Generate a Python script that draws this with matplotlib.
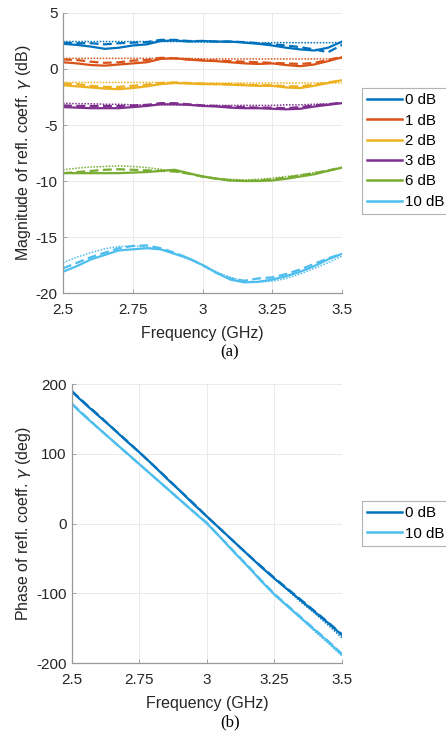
import matplotlib
matplotlib.use("Agg")
import matplotlib.pyplot as plt

plt.rcParams['font.family'] = ['Liberation Sans', 'DejaVu Sans']
plt.rcParams['mathtext.fontset'] = 'dejavusans'
plt.rcParams['axes.unicode_minus'] = False

freq = [2.5, 2.55, 2.6, 2.65, 2.7, 2.75, 2.8, 2.85, 2.9, 2.95, 3.0,
        3.05, 3.1, 3.15, 3.2, 3.25, 3.3, 3.35, 3.4, 3.45, 3.5]

labels_mag = ['0 dB', '1 dB', '2 dB', '3 dB', '6 dB', '10 dB']
colors = ['#0072BD', '#D95319', '#EDB120', '#7E2F8E', '#77AC30', '#4DBEEE']

mag_solid = [
    [2.25, 2.15, 2.0, 1.8, 1.9, 2.1, 2.2, 2.5, 2.55, 2.45, 2.5, 2.45, 2.45, 2.35, 2.25, 2.1, 1.9, 1.75, 1.65, 1.9, 2.45],
    [0.6, 0.5, 0.35, 0.3, 0.4, 0.5, 0.6, 0.9, 0.95, 0.85, 0.75, 0.7, 0.6, 0.5, 0.45, 0.5, 0.35, 0.25, 0.4, 0.7, 1.05],
    [-1.45, -1.55, -1.65, -1.75, -1.8, -1.7, -1.55, -1.35, -1.25, -1.3, -1.35, -1.35, -1.4, -1.45, -1.5, -1.5, -1.65, -1.7, -1.5, -1.25, -1.0],
    [-3.4, -3.45, -3.5, -3.5, -3.5, -3.4, -3.3, -3.15, -3.15, -3.2, -3.3, -3.35, -3.45, -3.5, -3.5, -3.55, -3.6, -3.55, -3.35, -3.2, -3.05],
    [-9.3, -9.3, -9.3, -9.3, -9.3, -9.25, -9.2, -9.1, -9.0, -9.3, -9.6, -9.8, -9.95, -10.0, -10.0, -9.95, -9.8, -9.6, -9.4, -9.1, -8.8],
    [-18.1, -17.6, -17.0, -16.6, -16.2, -16.1, -16.0, -16.1, -16.5, -16.9, -17.5, -18.2, -18.8, -19.05, -19.0, -18.8, -18.5, -18.1, -17.6, -17.0, -16.5],
]
mag_dashed = [
    [2.35, 2.3, 2.3, 2.2, 2.3, 2.35, 2.4, 2.6, 2.6, 2.5, 2.5, 2.45, 2.45, 2.4, 2.3, 2.2, 2.1, 1.95, 1.75, 1.5, 2.15],
    [0.85, 0.8, 0.65, 0.55, 0.6, 0.75, 0.8, 1.0, 0.95, 0.85, 0.8, 0.75, 0.7, 0.65, 0.6, 0.55, 0.5, 0.45, 0.55, 0.8, 1.1],
    [-1.3, -1.35, -1.5, -1.6, -1.6, -1.5, -1.4, -1.25, -1.2, -1.25, -1.3, -1.35, -1.35, -1.4, -1.45, -1.45, -1.55, -1.55, -1.4, -1.2, -1.0],
    [-3.25, -3.3, -3.3, -3.3, -3.3, -3.25, -3.2, -3.05, -3.05, -3.15, -3.25, -3.3, -3.35, -3.4, -3.45, -3.45, -3.5, -3.4, -3.25, -3.15, -3.0],
    [-9.3, -9.2, -9.1, -9.0, -8.95, -9.0, -9.05, -9.1, -9.15, -9.35, -9.6, -9.8, -9.95, -10.0, -9.95, -9.85, -9.7, -9.5, -9.3, -9.05, -8.8],
    [-17.8, -17.3, -16.8, -16.4, -16.0, -15.8, -15.75, -16.0, -16.4, -16.9, -17.5, -18.2, -18.7, -18.9, -18.7, -18.6, -18.3, -17.9, -17.4, -16.9, -16.5],
]
mag_dotted = [
    [2.45, 2.45, 2.45, 2.45, 2.45, 2.45, 2.45, 2.45, 2.45, 2.45, 2.4, 2.4, 2.4, 2.4, 2.35, 2.35, 2.35, 2.35, 2.35, 2.35, 2.35],
    [0.95, 0.95, 0.95, 0.95, 0.95, 0.95, 0.95, 0.95, 0.95, 0.95, 0.9, 0.9, 0.9, 0.9, 0.9, 0.9, 0.9, 0.9, 0.9, 0.9, 0.95],
    [-1.2, -1.2, -1.2, -1.2, -1.2, -1.2, -1.2, -1.2, -1.2, -1.25, -1.25, -1.25, -1.25, -1.25, -1.25, -1.25, -1.25, -1.25, -1.25, -1.25, -1.25],
    [-3.05, -3.1, -3.1, -3.15, -3.15, -3.2, -3.2, -3.2, -3.2, -3.2, -3.25, -3.25, -3.25, -3.25, -3.25, -3.25, -3.2, -3.2, -3.15, -3.1, -3.05],
    [-9.0, -8.85, -8.75, -8.7, -8.65, -8.7, -8.8, -8.95, -9.15, -9.35, -9.55, -9.75, -9.85, -9.9, -9.85, -9.75, -9.6, -9.45, -9.25, -9.05, -8.85],
    [-17.3, -16.8, -16.4, -16.05, -15.85, -15.8, -15.9, -16.1, -16.5, -17.0, -17.5, -18.1, -18.6, -18.95, -19.0, -18.95, -18.7, -18.3, -17.8, -17.3, -16.7],
]

labels_phase = ['0 dB', '10 dB']
colors_phase = ['#0072BD', '#4DBEEE']
phase_solid = [
    [189, 171, 154, 137, 119, 102, 84, 65, 47, 28, 10, -8, -26, -44, -62, -79, -95, -111, -127, -143, -160],
    [171, 153, 136, 119, 102, 85, 68, 51, 34, 17, 0, -20, -41, -61, -82, -102, -119, -136, -153, -170, -188],
]
phase_dashed = [
    [190, 172, 155, 137, 120, 102, 84, 66, 47, 29, 10, -8, -26, -44, -61, -78, -94, -110, -126, -142, -159],
    [172, 154, 136, 119, 102, 85, 68, 51, 34, 17, 1, -20, -40, -60, -81, -101, -118, -135, -152, -169, -187],
]
phase_dotted = [
    [189, 171, 154, 137, 119, 102, 84, 65, 47, 28, 10, -8, -26, -44, -62, -79, -96, -113, -129, -146, -164],
    [171, 153, 136, 119, 102, 85, 68, 51, 34, 17, 0, -20, -41, -61, -82, -102, -120, -137, -155, -172, -190],
]

xticks = [2.5, 2.75, 3.0, 3.25, 3.5]
xticklabels = ['2.5', '2.75', '3', '3.25', '3.5']

fig = plt.figure(figsize=(4.46, 7.34), dpi=100)
ax1 = fig.add_axes([0.1413, 0.6008, 0.6256, 0.3815])
ax2 = fig.add_axes([0.1614, 0.0967, 0.6054, 0.3800])

def style(ax):
    ax.set_xlim(2.5, 3.5)
    ax.set_xticks(xticks)
    ax.set_xticklabels(xticklabels)
    ax.grid(True, color='#e6e6e6', lw=0.6)
    ax.set_axisbelow(True)
    for s in ['top', 'right']:
        ax.spines[s].set_visible(False)
    for s in ['left', 'bottom']:
        ax.spines[s].set_color('#999999')
        ax.spines[s].set_linewidth(0.9)
    ax.tick_params(direction='in', length=3, width=0.6, colors='#999999',
                   labelcolor='#262626', labelsize=11)
    ax.tick_params(axis='x', pad=7)
    ax.tick_params(axis='y', pad=4)

lw = 1.6
dash = (0, (4, 2))
dot = (0, (1, 1))
for i in range(len(labels_mag)):
    ax1.plot(freq, mag_solid[i], color=colors[i], lw=lw, ls='-', label=labels_mag[i])
    ax1.plot(freq, mag_dashed[i], color=colors[i], lw=lw, ls=dash)
    ax1.plot(freq, mag_dotted[i], color=colors[i], lw=1.1, ls=dot)
ax1.set_ylim(-20, 5)
ax1.set_yticks([-20, -15, -10, -5, 0, 5])
style(ax1)
ax1.set_xlabel('Frequency (GHz)', fontsize=11.5, color='#262626', labelpad=7)
ax1.set_ylabel(r'Magnitude of refl. coeff. $\gamma$ (dB)', fontsize=11.5, color='#262626', labelpad=2)
leg1 = ax1.legend(loc='upper left', bbox_to_anchor=(0.8117, 0.8801), bbox_transform=fig.transFigure,
                  fontsize=10.8, frameon=True, fancybox=False, edgecolor='#a0a0a0',
                  handlelength=2.3, handletextpad=0.2, borderpad=0.35, labelspacing=0.42,
                  borderaxespad=0)
leg1.get_frame().set_linewidth(0.8)
for h in leg1.get_lines():
    h.set_linewidth(1.8)

for i in range(len(labels_phase)):
    ax2.plot(freq, phase_solid[i], color=colors_phase[i], lw=lw, ls='-', label=labels_phase[i])
    ax2.plot(freq, phase_dashed[i], color=colors_phase[i], lw=lw, ls=dash)
    ax2.plot(freq, phase_dotted[i], color=colors_phase[i], lw=1.1, ls=dot)
ax2.set_ylim(-200, 200)
ax2.set_yticks([-200, -100, 0, 100, 200])
style(ax2)
ax2.set_xlabel('Frequency (GHz)', fontsize=11.5, color='#262626', labelpad=7)
ax2.set_ylabel(r'Phase of refl. coeff. $\gamma$ (deg)', fontsize=11.5, color='#262626', labelpad=2)
leg2 = ax2.legend(loc='upper left', bbox_to_anchor=(0.8117, 0.3174), bbox_transform=fig.transFigure,
                  fontsize=10.8, frameon=True, fancybox=False, edgecolor='#a0a0a0',
                  handlelength=2.3, handletextpad=0.2, borderpad=0.35, labelspacing=0.42,
                  borderaxespad=0)
leg2.get_frame().set_linewidth(0.8)
for h in leg2.get_lines():
    h.set_linewidth(1.8)

fig.text(230 / 446, 1 - 352 / 734, '(a)', family='Liberation Serif', fontsize=12,
         ha='center', va='center', color='black')
fig.text(230 / 446, 1 - 722 / 734, '(b)', family='Liberation Serif', fontsize=12,
         ha='center', va='center', color='black')

fig.savefig('out.png', dpi=100)
